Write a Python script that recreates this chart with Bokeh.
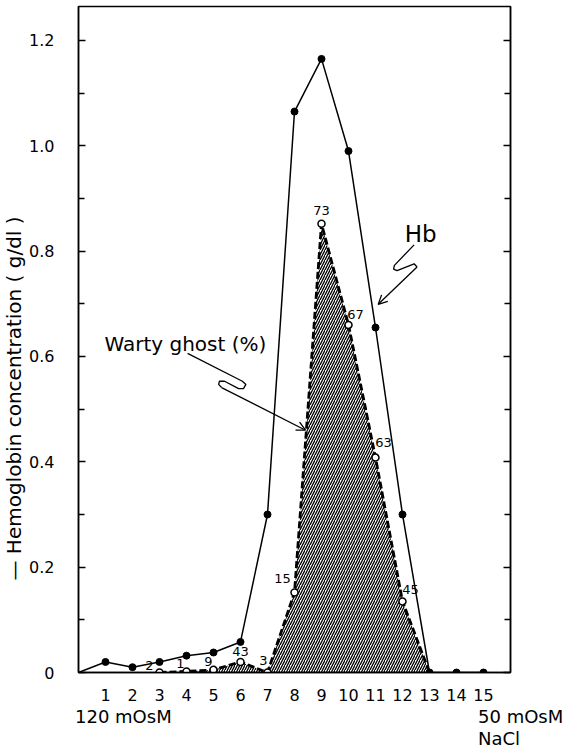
import numpy as np
from bokeh.plotting import figure
from bokeh.layouts import column
from bokeh.models import (FixedTicker, LinearAxis, Label, LabelSet, Arrow, OpenHead,
                          ColumnDataSource, Range1d, Title, Div)
from bokeh.embed import file_html
from bokeh.resources import INLINE
from bokeh.core.properties import value

# ---------------- data ----------------
fractions = list(range(0, 16))
hb_conc = [0.0, 0.02, 0.01, 0.02, 0.032, 0.038, 0.058, 0.30, 1.065, 1.165,
           0.99, 0.655, 0.30, 0.0, 0.0, 0.0]

ghost_x = [3, 4, 5, 6, 7, 8, 9, 10, 11, 12, 13]
ghost_y = [0.0, 0.002, 0.005, 0.02, 0.0, 0.152, 0.852, 0.66, 0.408, 0.135, 0.0]
ghost_pct = ["2", "1", "9", "43", "3", "15", "73", "67", "63", "45"]  # fractions 3..12

xtick_vals = list(range(1, 16))
xtick_labels = [str(v) for v in xtick_vals]
ytick_vals = [0, 0.2, 0.4, 0.6, 0.8, 1.0, 1.2]
ytick_labels = ["0", "0.2", "0.4", "0.6", "0.8", "1.0", "1.2"]
ytick_minor = [0.1, 0.3, 0.5, 0.7, 0.9, 1.1]

scale_start_label = "120 mOsM"
scale_end_label = "50 mOsM"
salt_label = "NaCl"
y_title = "— Hemoglobin concentration ( g/dl )"

# label offsets (screen px) for percentage annotations
pct_dx = [-10, -6, -5, 0, -4, -12, 0, 7, 8, 8]
pct_dy = [7, 8, 8, 10, 12, 14, 13, 10, 15, 12]

# annotation call-out paths (data coords)
warty_path_x = [4.04, 6.07, 6.20, 6.11, 5.93, 5.41, 5.22, 5.19, 5.30]
warty_path_y = [0.606, 0.553, 0.547, 0.539, 0.539, 0.553, 0.553, 0.547, 0.541]
warty_arrow_end = (8.41, 0.460)
hb_path_x = [12.43, 11.70, 11.67, 11.80, 12.43, 12.54]
hb_path_y = [0.812, 0.773, 0.766, 0.763, 0.776, 0.770]
hb_arrow_end = (11.10, 0.699)

FONT = "DejaVu Sans"
X0, X1 = 0, 16
Y0, Y1 = 0, 1.2645

p = figure(width=567, height=705, x_range=Range1d(X0, X1), y_range=Range1d(Y0, Y1),
           output_backend="svg", toolbar_location=None,
           min_border_left=76, min_border_right=57, min_border_top=6, min_border_bottom=33)
p.grid.visible = False
p.outline_line_color = "black"
p.outline_line_width = 1.5
p.background_fill_color = "white"
p.border_fill_color = "white"

# x axis
p.xaxis.ticker = FixedTicker(ticks=xtick_vals)
p.xaxis.major_label_overrides = dict(zip(xtick_vals, xtick_labels))
p.xaxis.major_tick_line_color = None
p.xaxis.minor_tick_line_color = None
p.xaxis.major_label_standoff = 10
p.xaxis.axis_line_width = 1.5
p.xaxis.major_label_text_font = FONT
p.xaxis.major_label_text_font_size = "16px"
p.xaxis.major_label_text_color = "black"

# left y axis
p.yaxis.ticker = FixedTicker(ticks=ytick_vals, minor_ticks=ytick_minor)
p.yaxis.major_label_overrides = dict(zip(ytick_vals, ytick_labels))
p.yaxis.major_tick_in = 7
p.yaxis.major_tick_out = 0
p.yaxis.minor_tick_in = 6
p.yaxis.minor_tick_out = 0
p.yaxis.major_tick_line_width = 1.5
p.yaxis.minor_tick_line_width = 1.5
p.yaxis.axis_line_width = 1.5
p.yaxis.major_label_standoff = 24
p.yaxis.major_label_text_font = FONT
p.yaxis.major_label_text_font_size = "16px"
p.yaxis.major_label_text_color = "black"

# right y axis (ticks only)
ra = LinearAxis(ticker=FixedTicker(ticks=ytick_vals, minor_ticks=ytick_minor),
                major_tick_in=7, major_tick_out=0, minor_tick_in=6, minor_tick_out=0,
                major_tick_line_width=1.5, minor_tick_line_width=1.5,
                axis_line_width=1.5, major_label_text_color=None, major_label_standoff=0)
p.add_layout(ra, "right")

# rotated y title in the left panel
p.add_layout(Title(text=y_title, align="left", offset=92, vertical_align="middle",
                   standoff=0, text_font=FONT, text_font_size="20px",
                   text_font_style="normal", text_color="black"), "left")

# hatched area under the warty ghost curve
p.varea(x=ghost_x, y1=0, y2=ghost_y, fill_color=None, fill_alpha=0,
        hatch_pattern="/", hatch_color="black", hatch_scale=5, hatch_weight=1.3)

# warty ghost dashed line
p.line(ghost_x, ghost_y, line_color="black", line_width=2.8, line_dash="7 3")

# Hb line
p.line(fractions, hb_conc, line_color="black", line_width=1.5)
p.scatter(ghost_x[:-1], ghost_y[:-1], marker="circle", size=7, fill_color="white",
          line_color="black", line_width=1.5)
p.scatter(fractions[1:], hb_conc[1:], marker="circle", size=7, fill_color="black",
          line_color="black")

# percentage labels
src = ColumnDataSource(dict(x=ghost_x[:-1], y=ghost_y[:-1], t=ghost_pct, dx=pct_dx, dy=pct_dy))
p.add_layout(LabelSet(x="x", y="y", text="t", source=src, x_offset="dx", y_offset="dy",
                      text_align="center", text_baseline="middle",
                      text_font=value(FONT), text_font_size="13px", text_color="black"))

# call-outs
p.line(warty_path_x, warty_path_y, line_color="black", line_width=1.3)
p.add_layout(Arrow(end=OpenHead(size=9, line_width=1.3, line_color="black"),
                   x_start=warty_path_x[-1], y_start=warty_path_y[-1],
                   x_end=warty_arrow_end[0], y_end=warty_arrow_end[1],
                   line_width=1.3, line_color="black"))
p.line(hb_path_x, hb_path_y, line_color="black", line_width=1.3)
p.add_layout(Arrow(end=OpenHead(size=9, line_width=1.3, line_color="black"),
                   x_start=hb_path_x[-1], y_start=hb_path_y[-1],
                   x_end=hb_arrow_end[0], y_end=hb_arrow_end[1],
                   line_width=1.3, line_color="black"))

p.add_layout(Label(x=0.96, y=0.623, text="Warty ghost (%)", text_font=FONT,
                   text_font_size="20px", text_align="left", text_baseline="alphabetic",
                   text_color="black"))
p.add_layout(Label(x=12.67, y=0.832, text="Hb", text_font=FONT, text_font_size="23px",
                   text_align="center", text_baseline="middle", text_color="black"))

# ---------- bottom strip with the scale-end labels ----------
span = ("position:absolute;white-space:nowrap;line-height:20px;"
        "font-family:DejaVu Sans;font-size:18px;color:black;")
html = (
    '<div style="position:relative;width:567px;height:44px;">'
    f'<span style="{span}left:75px;top:2px;">{scale_start_label}</span>'
    f'<span style="{span}left:478px;top:2px;">{scale_end_label}</span>'
    f'<span style="{span}left:478px;top:24px;">{salt_label}</span>'
    '</div>'
)
strip = Div(text=html, width=567, height=44, margin=(0, 0, 0, 0))

layout = column(p, strip, spacing=0)
open("out.html", "w").write(file_html(layout, INLINE))
